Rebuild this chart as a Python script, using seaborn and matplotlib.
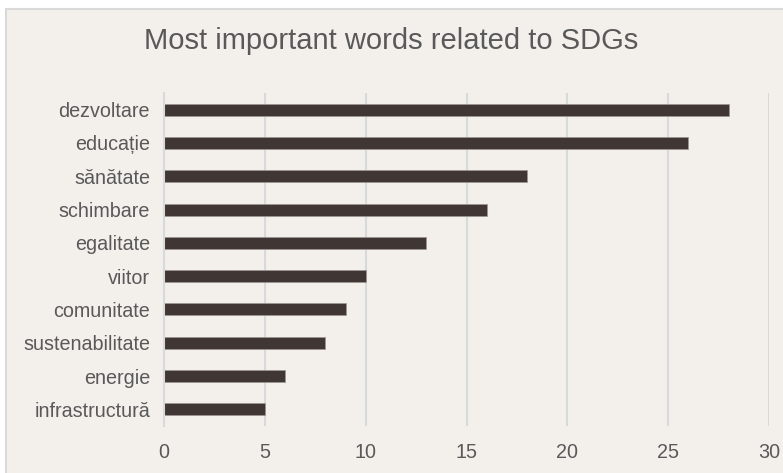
import matplotlib
matplotlib.use("Agg")
import matplotlib.pyplot as plt
from matplotlib.patches import Rectangle
import seaborn as sns
import pandas as pd

words = ["dezvoltare", "educație", "sănătate", "schimbare", "egalitate",
         "viitor", "comunitate", "sustenabilitate", "energie", "infrastructură"]
counts = [28, 26, 18, 16, 13, 10, 9, 8, 6, 5]
x_ticks = [0, 5, 10, 15, 20, 25, 30]
title = "Most important words related to SDGs"

BG = "#F3F0EC"
BAR = "#403734"
GRID = "#D9D9D9"
TEXT = "#595959"

sns.set_theme(style="white")
plt.rcParams["font.family"] = ["Liberation Sans", "DejaVu Sans"]

df = pd.DataFrame({"word": words, "count": counts})

fig = plt.figure(figsize=(7.83, 4.73), dpi=100, facecolor="white")
# chart frame, drawn beneath the axes
frame = Rectangle((6 / 783, -0.01), 1.0, 1 - 9 / 473 + 0.01,
                  transform=fig.transFigure, facecolor=BG,
                  edgecolor=GRID, linewidth=1.5, zorder=-10)
fig.add_artist(frame)

ax = fig.add_axes([164 / 783, 1 - 426 / 473, (769 - 164) / 783, (426 - 93) / 473])
ax.set_zorder(1)
ax.set_facecolor(BG)

sns.barplot(data=df, x="count", y="word", ax=ax, color=BAR, width=0.36,
            saturation=1, edgecolor="#9C9593", linewidth=0.5, zorder=3)

ax.set_xlim(0, 30)
ax.set_ylim(9.5, -0.5)
ax.set_xticks(x_ticks)
ax.set_xticklabels([str(t) for t in x_ticks])
ax.grid(axis="x", color=GRID, linewidth=1.5, zorder=0)
ax.set_axisbelow(True)
for side in ["top", "right", "bottom"]:
    ax.spines[side].set_visible(False)
ax.spines["left"].set_color(GRID)
ax.spines["left"].set_linewidth(1.5)
ax.spines["left"].set_zorder(4)

ax.tick_params(axis="both", length=0, colors=TEXT, labelsize=14.2)
ax.tick_params(axis="x", pad=12.5)
ax.tick_params(axis="y", pad=10)
ax.set_xlabel("")
ax.set_ylabel("")

fig.text(0.5, 1 - 41 / 473, title, ha="center", va="center",
         fontsize=21, color=TEXT, zorder=5)

fig.savefig("out.png", dpi=100, facecolor="white")
